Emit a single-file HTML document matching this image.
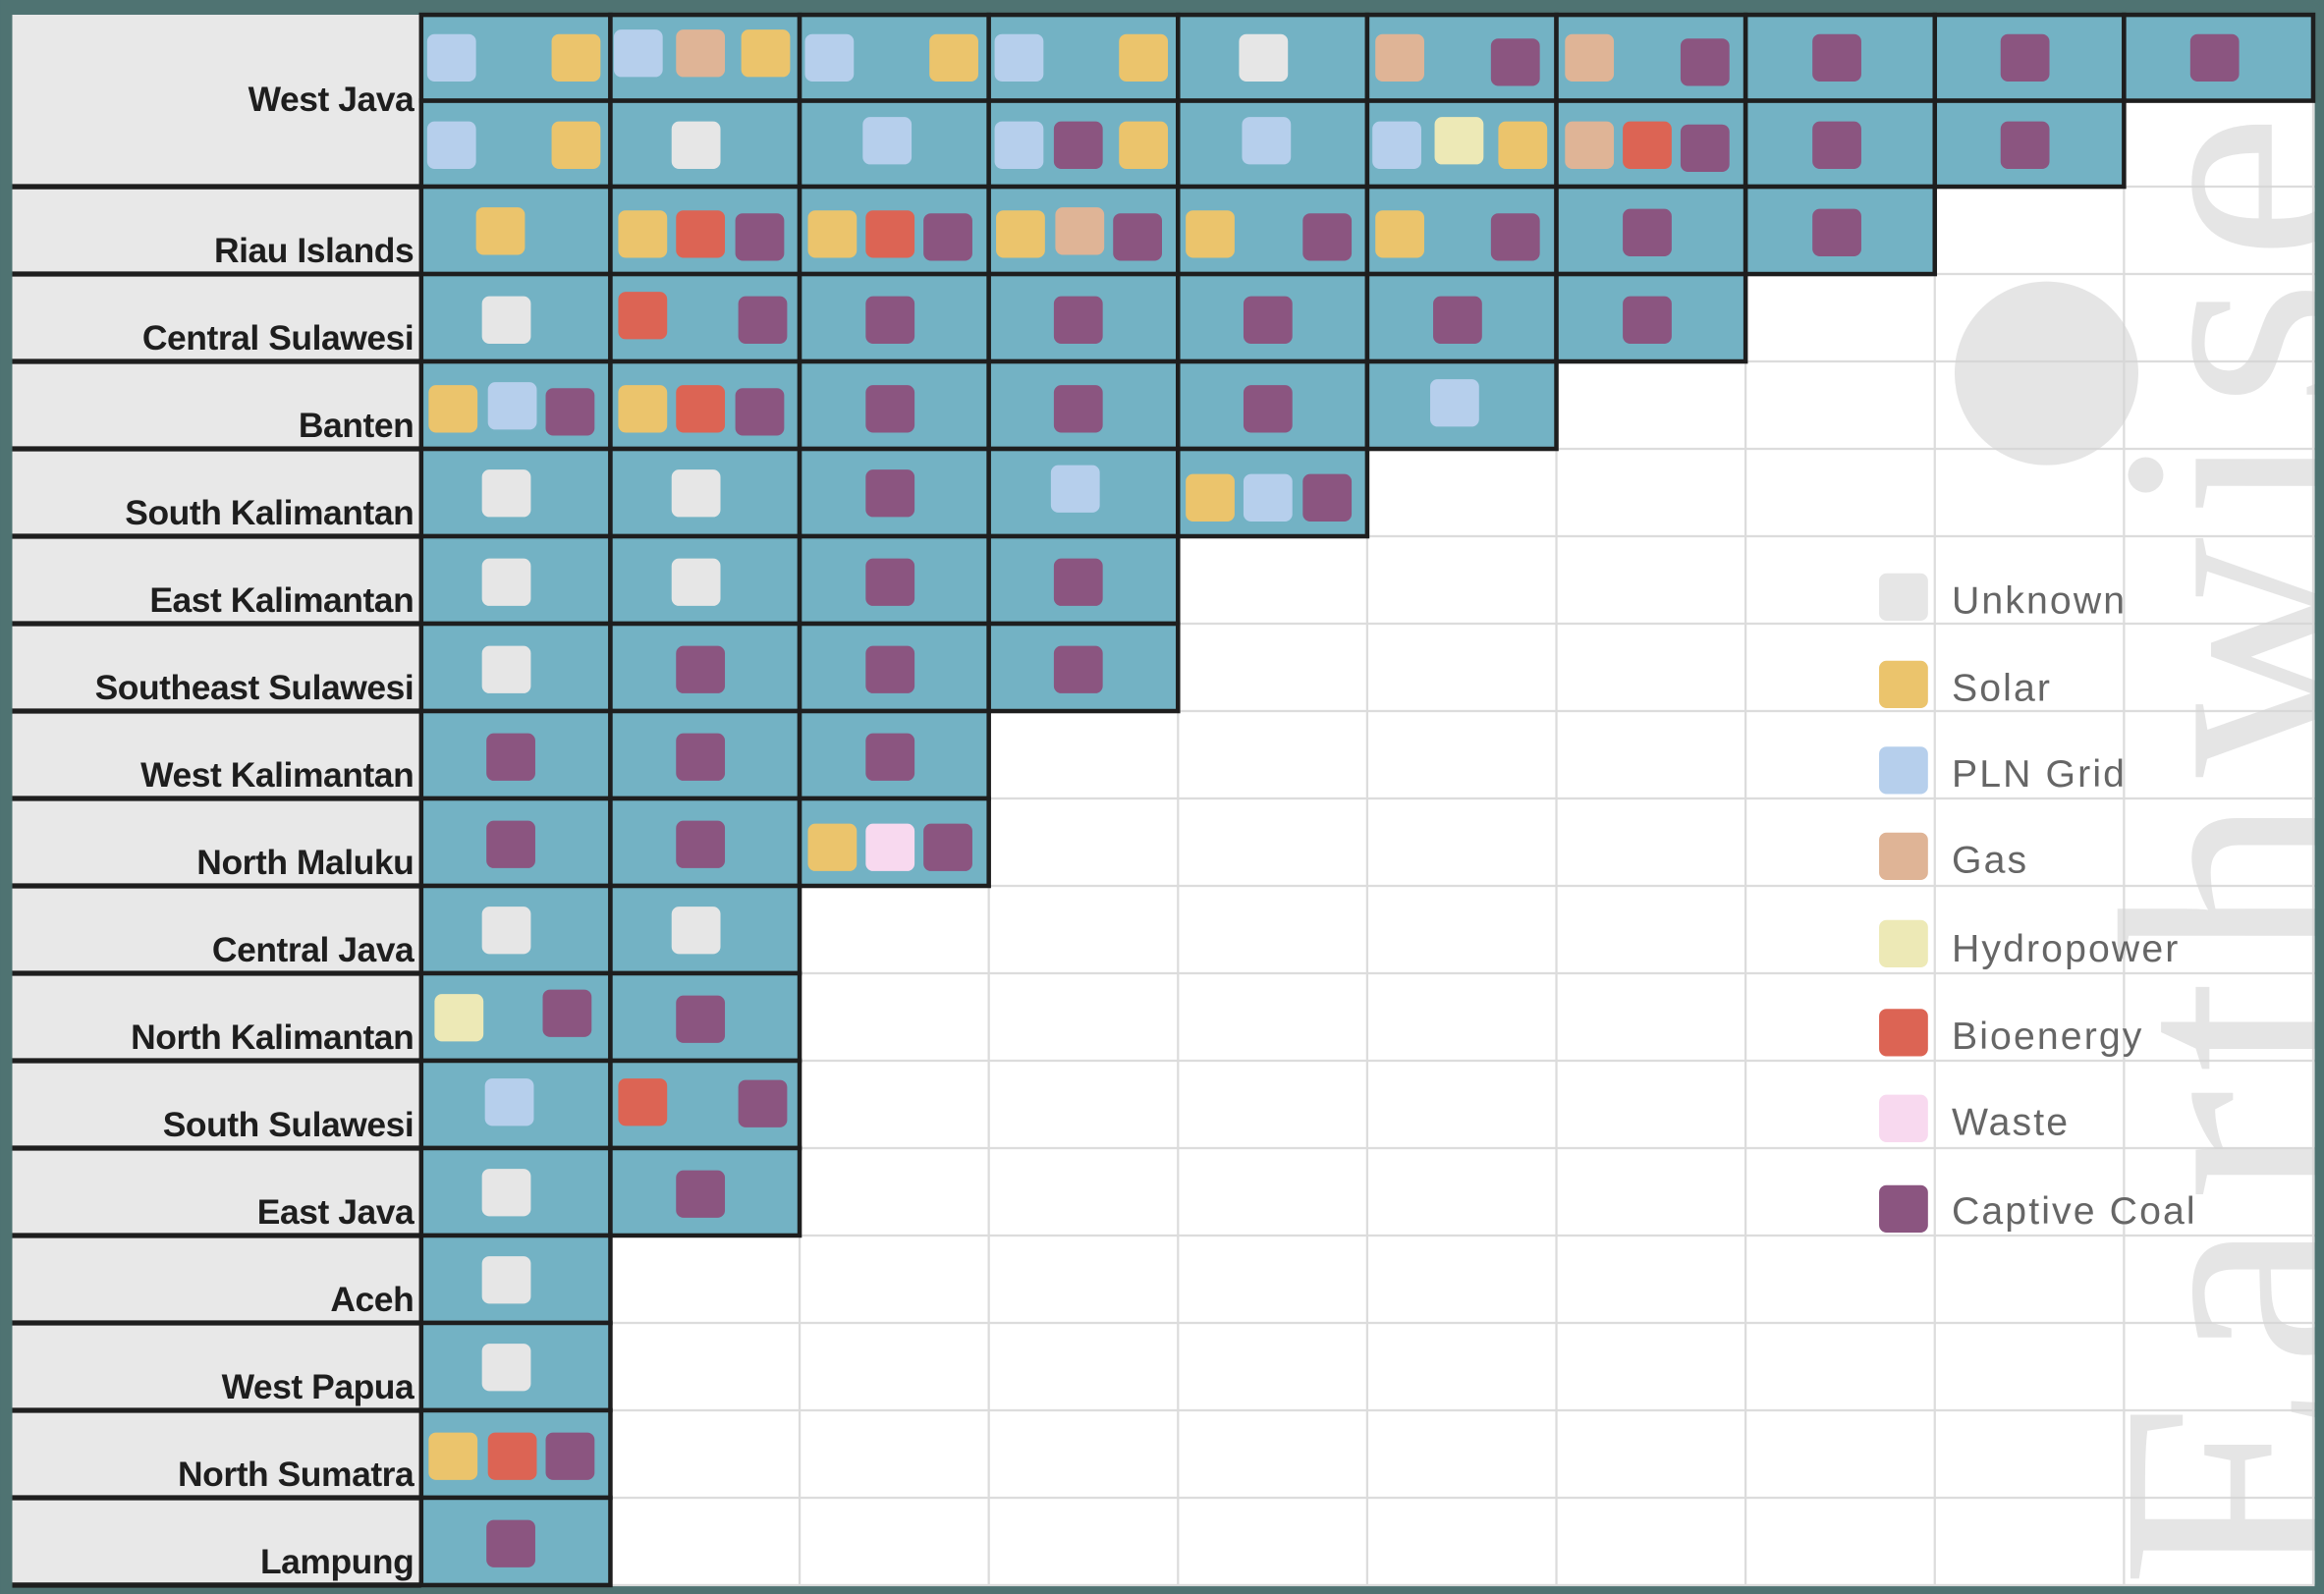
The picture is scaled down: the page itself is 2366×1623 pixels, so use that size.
<!DOCTYPE html>
<html><head><meta charset="utf-8"><style>
html,body{margin:0;padding:0;background:#4f7372;}
svg{display:block;}
</style></head><body>
<svg id="s" width="2366" height="1623" viewBox="0 0 1568 1076" xmlns="http://www.w3.org/2000/svg">
<defs><clipPath id="cp"><rect x="8" y="10" width="1554" height="1060"/></clipPath></defs>
<rect x="0" y="0" width="1568" height="1076" fill="#4f7372"/>
<rect x="8" y="10" width="1554" height="1060" fill="#ffffff"/>
<g id="grid" stroke="#dcdcdc" stroke-width="1.5"></g>
<g opacity="0.6" fill="#d4d4d4" clip-path="url(#cp)">
<ellipse cx="1381" cy="252" rx="62" ry="62"/>
<text transform="translate(1585,1072) rotate(-90)" font-family="Liberation Serif, serif" font-size="225" letter-spacing="12">Earthwise</text>
</g>
<rect x="8" y="10" width="276" height="1060" fill="#e8e8e8"/>
<g id="cells"></g>
<g id="sq"></g>
<g font-family="Liberation Sans, Arial, sans-serif" font-weight="bold" font-size="23.5" fill="#1e1e1e" text-anchor="end" letter-spacing="-0.3">
<text x="279" y="75">West Java</text>
<text x="279" y="177">Riau Islands</text>
<text x="279" y="236">Central Sulawesi</text>
<text x="279" y="295">Banten</text>
<text x="279" y="354">South Kalimantan</text>
<text x="279" y="413">East Kalimantan</text>
<text x="279" y="472">Southeast Sulawesi</text>
<text x="279" y="531">West Kalimantan</text>
<text x="279" y="590">North Maluku</text>
<text x="279" y="649">Central Java</text>
<text x="279" y="708">North Kalimantan</text>
<text x="279" y="767">South Sulawesi</text>
<text x="279" y="826">East Java</text>
<text x="279" y="885">Aceh</text>
<text x="279" y="944">West Papua</text>
<text x="279" y="1003">North Sumatra</text>
<text x="279" y="1062">Lampung</text>
</g>
<g id="leg"></g>
<g font-family="Liberation Sans, Arial, sans-serif" font-size="26" fill="#666" letter-spacing="1.4">
<text x="1317" y="414">Unknown</text>
<text x="1317" y="473">Solar</text>
<text x="1317" y="531">PLN Grid</text>
<text x="1317" y="589">Gas</text>
<text x="1317" y="649">Hydropower</text>
<text x="1317" y="708">Bioenergy</text>
<text x="1317" y="766">Waste</text>
<text x="1317" y="826">Captive Coal</text>
</g>
</svg>
<script>
var NS="http://www.w3.org/2000/svg";
function el(p,t,a){var e=document.createElementNS(NS,t);for(var k in a)e.setAttribute(k,a[k]);document.getElementById(p).appendChild(e);return e;}
var cols=[284,411.7,539.4,667.1,794.8,922.5,1050.2,1177.9,1305.6,1433.3,1561];
var rowsY=[10,68,126,185,244,303,362,421,480,539,598,657,716,775,834,893,952,1011,1070];
for(var i=0;i<cols.length;i++)el("grid","line",{x1:cols[i],y1:10,x2:cols[i],y2:1070});
for(var j=0;j<rowsY.length;j++)el("grid","line",{x1:284,y1:rowsY[j],x2:1562,y2:rowsY[j]});
var ncols=[10,9,8,7,6,5,4,4,3,3,2,2,2,2,1,1,1,1];
for(var r=0;r<18;r++){
 var y0=rowsY[r],y1=rowsY[r+1];
 for(var c=0;c<ncols[r];c++){
  el("cells","rect",{x:cols[c],y:y0,width:cols[c+1]-cols[c],height:y1-y0,fill:"#73b2c4",stroke:"#1e1e1e","stroke-width":3});
 }
}
for(var j=2;j<rowsY.length;j++)el("cells","line",{x1:8,y1:rowsY[j],x2:284,y2:rowsY[j],stroke:"#1e1e1e","stroke-width":3.5});
var C={U:"#e6e6e6",S:"#ebc46c",P:"#b6cfec",G:"#dfb496",H:"#ede9b6",B:"#dc6454",W:"#f8d9ef",C:"#8b5580"};
var D=[
[23,"P288 S372 P414:20 G456:20 S500:20 P543 S627 P671 S755 U836 G928 C1006:26 G1056 C1134:26 C1223 C1350 C1478"],
[82,"P288 S372 U453 P582:79 P671 C711 S755 P838:79 P926 H968:79 S1011 G1056 B1095 C1134:84 C1223 C1350"],
[142,"S321:140 S417 B456 C496:144 S545 B584 C623:144 S672 G712:140 C751:144 S800 C879:144 S928 C1006:144 C1095:141 C1223:141"],
[200,"U325 B417:197 C498 C584 C711 C839 C967 C1095"],
[260,"S289 P329:258 C368:262 S417 B456 C496:262 C584 C711 C839 P965:256"],
[317,"U325 U453 C584 P709:314 S800:320 P839:320 C879:320"],
[377,"U325 U453 C584 C711"],
[436,"U325 C456 C584 C711"],
[495,"C328 C456 C584"],
[554,"C328 C456 S545:556 W584:556 C623:556"],
[612,"U325 U453"],
[670,"H293:671 C366:668 C456:672"],
[728,"P327 B417 C498:729"],
[789,"U325 C456:790"],
[848,"U325"],
[907,"U325"],
[967,"S289 B329 C368"],
[1026,"C328"]];
D.forEach(function(d){d[1].split(" ").forEach(function(s){
 var k=s[0],rest=s.slice(1).split(":"),x=+rest[0],y=rest[1]?+rest[1]:d[0];
 el("sq","rect",{x:x,y:y,width:33,height:32,rx:5,fill:C[k]});
});});
var L=[["U",387],["S",446],["P",504],["G",562],["H",621],["B",681],["W",739],["C",800]];
L.forEach(function(l){el("leg","rect",{x:1268,y:l[1],width:33,height:32,rx:5,fill:C[l[0]]});});
</script>
</body></html>
